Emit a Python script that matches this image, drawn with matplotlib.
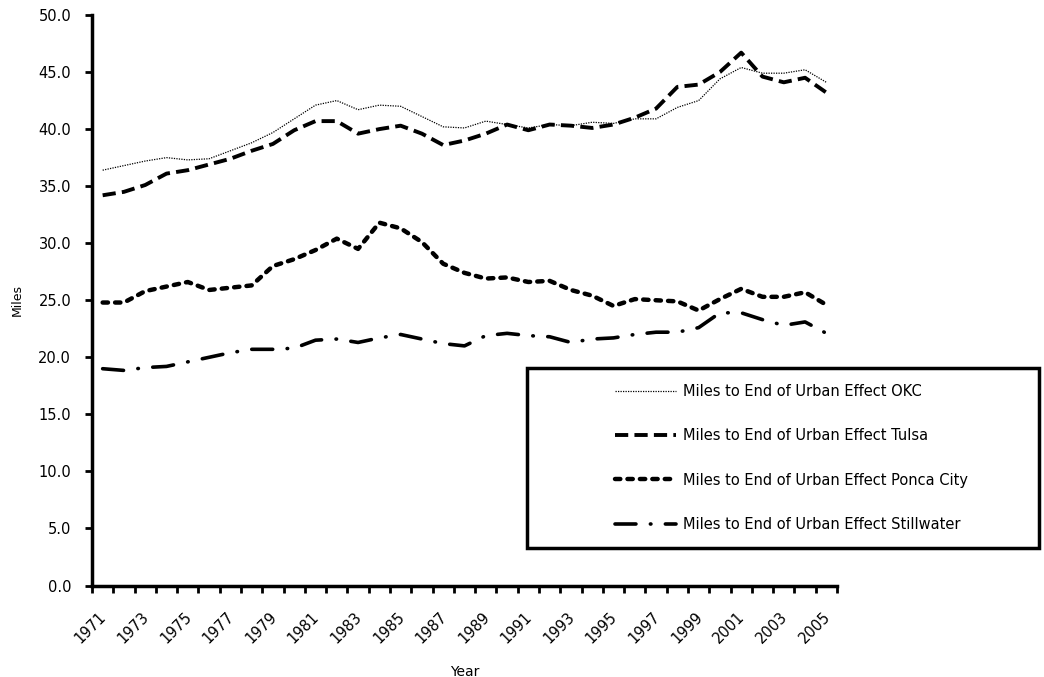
import matplotlib
matplotlib.use('Agg')
import numpy as np
import matplotlib.pyplot as plt
from matplotlib.patches import Rectangle
from matplotlib.transforms import ScaledTranslation

# Данные
years = list(range(1971, 2006))
okc = [36.4, 36.8, 37.2, 37.5, 37.3, 37.4, 38.1, 38.8, 39.7, 40.9,
       42.1, 42.5, 41.7, 42.1, 42.0, 41.1, 40.2, 40.1, 40.7, 40.4,
       40.1, 40.4, 40.3, 40.6, 40.5, 40.9, 40.9, 41.9, 42.5, 44.4,
       45.4, 44.9, 44.9, 45.2, 44.1]
tulsa = [34.2, 34.5, 35.1, 36.1, 36.4, 36.9, 37.4, 38.1, 38.7, 39.9,
         40.7, 40.7, 39.6, 40.0, 40.3, 39.6, 38.6, 39.0, 39.6, 40.4,
         39.9, 40.4, 40.3, 40.1, 40.4, 41.0, 41.8, 43.7, 43.9, 45.0,
         46.7, 44.6, 44.1, 44.5, 43.2]
ponca = [24.8, 24.8, 25.8, 26.2, 26.6, 25.9, 26.1, 26.3, 28.0, 28.6,
         29.4, 30.4, 29.5, 31.8, 31.3, 30.1, 28.2, 27.4, 26.9, 27.0,
         26.6, 26.7, 25.9, 25.4, 24.5, 25.1, 25.0, 24.9, 24.1, 25.1,
         26.0, 25.3, 25.3, 25.7, 24.6]
stillwater = [19.0, 18.85, 19.1, 19.2, 19.6, 20.0, 20.4, 20.7, 20.7, 20.8,
              21.5, 21.6, 21.3, 21.7, 22.0, 21.6, 21.2, 21.0, 21.9, 22.1,
              21.9, 21.8, 21.3, 21.6, 21.7, 22.0, 22.2, 22.2, 22.6, 23.9,
              23.9, 23.3, 22.8, 23.1, 22.1]
labels = ['Miles to End of Urban Effect OKC',
          'Miles to End of Urban Effect Tulsa',
          'Miles to End of Urban Effect Ponca City',
          'Miles to End of Urban Effect Stillwater']

plt.rcParams['font.family'] = ['DejaVu Sans']

fig = plt.figure(figsize=(10.44, 6.77), dpi=100)
ax = fig.add_axes([92 / 1044, 1 - 585.5 / 677, 745 / 1044, 570.5 / 677])

x = np.arange(len(years))

# Линии
ax.plot(x, okc, color='black', lw=0.9, linestyle=(0, (1, 1)), label=labels[0])
ax.plot(x, tulsa, color='black', lw=2.8, linestyle=(0, (3.4, 1.6)),
        dash_capstyle='butt', label=labels[1])
ax.plot(x, ponca, color='black', lw=3.2, linestyle=(0, (1.2, 1.6)),
        dash_capstyle='round', label=labels[2])
ax.plot(x, stillwater, color='black', lw=2.6,
        linestyle=(0, (5.8, 4.0, 0.15, 4.0)), dash_capstyle='round',
        label=labels[3])

# Оси
ax.set_xlim(-0.5, len(years) - 0.5)
ax.set_ylim(0, 50)
ax.set_yticks(np.arange(0, 50.1, 5))
ax.set_yticklabels(['%.1f' % v for v in np.arange(0, 50.1, 5)], fontsize=10.5)
ax.tick_params(axis='y', direction='out', length=5, width=2, pad=10)

ax.set_xticks(x[::2])
ax.set_xticklabels([str(y) for y in years[::2]], rotation=45, ha='right',
                   rotation_mode='anchor', fontsize=10.5)
ax.tick_params(axis='x', which='major', length=0, pad=17)
# сдвиг подписей годов чуть влево
shift = ScaledTranslation(-4 / 100, 0, fig.dpi_scale_trans)
for lbl in ax.get_xticklabels():
    lbl.set_transform(lbl.get_transform() + shift)
ax.set_xticks(np.arange(-0.5, len(years)), minor=True)
ax.tick_params(axis='x', which='minor', direction='out', length=5, width=2)

for s in ['top', 'right']:
    ax.spines[s].set_visible(False)
for s in ['left', 'bottom']:
    ax.spines[s].set_linewidth(2.5)

ax.set_ylabel('Miles', fontsize=9)
ax.yaxis.set_label_coords(-0.092, 0.5)
ax.set_xlabel('Year', fontsize=10)
ax.xaxis.set_label_coords(0.5, -0.139)

# Рамка легенды
x0, x1, y0, y1 = 527, 1039, 368, 548
fig.add_artist(Rectangle((x0 / 1044, 1 - y1 / 677), (x1 - x0) / 1044,
                         (y1 - y0) / 677, transform=fig.transFigure,
                         fill=False, lw=2.5, ec='black'))
leg = fig.legend(loc='center',
                 bbox_to_anchor=((x0 + x1) / 2 / 1044 + 0.008,
                                 1 - (y0 + y1) / 2 / 677),
                 frameon=False, fontsize=10.5, handlelength=4.2,
                 handletextpad=0.45, labelspacing=2.0)

plt.savefig('out.png', dpi=100)
